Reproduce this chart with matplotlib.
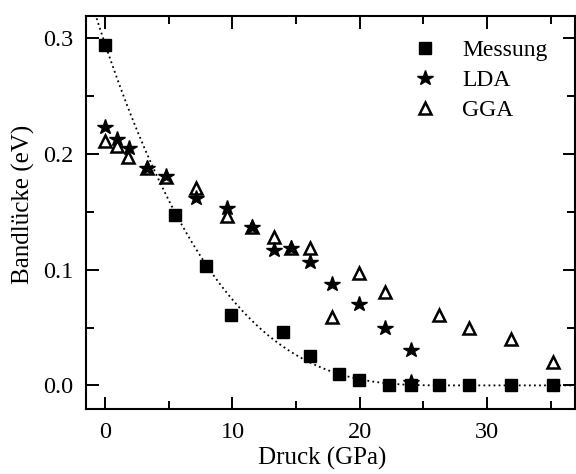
import numpy as np
import matplotlib
matplotlib.use("Agg")
import matplotlib.pyplot as plt
from matplotlib.ticker import MultipleLocator, FormatStrFormatter

# Measured band gap vs. pressure
p_mess = [0.0, 5.5, 7.9, 9.9, 14.0, 16.1, 18.4, 19.9, 22.3, 24.0, 26.2, 28.6, 31.9, 35.2]
eg_mess = [0.294, 0.147, 0.103, 0.061, 0.046, 0.025, 0.010, 0.005, 0.0, 0.0, 0.0, 0.0, 0.0, 0.0]

# LDA calculation
p_lda = [0.0, 0.95, 1.85, 3.3, 4.75, 7.1, 9.6, 11.5, 13.3, 14.6, 16.1, 17.8, 19.9, 22.0, 24.0, 24.0]
eg_lda = [0.223, 0.213, 0.205, 0.188, 0.181, 0.162, 0.153, 0.137, 0.117, 0.119, 0.107,
          0.088, 0.070, 0.050, 0.031, 0.003]

# GGA calculation
p_gga = [0.0, 0.9, 1.8, 3.3, 4.75, 7.1, 9.6, 11.5, 13.3, 14.6, 16.1, 17.8, 19.9, 22.0,
         26.2, 28.6, 31.9, 35.2]
eg_gga = [0.211, 0.207, 0.197, 0.188, 0.180, 0.171, 0.146, 0.137, 0.128, 0.119, 0.119,
          0.059, 0.097, 0.081, 0.061, 0.050, 0.040, 0.020]

# Fitted curve parameters: Eg(p) = A * (1 - p/p0)^n for p < p0, else 0
fit_A = 0.295
fit_p0 = 27.1
fit_n = 3

plt.rcParams['font.family'] = ['Liberation Serif', 'DejaVu Serif']

fig = plt.figure(figsize=(5.76, 4.74), dpi=100)
ax = fig.add_axes([86 / 576, 1 - 409 / 474, (575 - 86) / 576, (409 - 16) / 474])

xlim = (-1.5, 36.9)
ax.set_xlim(*xlim)
ax.set_ylim(-0.0204, 0.3193)

pp = np.linspace(xlim[0], xlim[1], 400)
fit = fit_A * np.clip(1 - pp / fit_p0, 0, None) ** fit_n
ax.plot(pp, fit, color='black', lw=1.3, ls=(0, (1, 1.8)), zorder=1)

ax.plot(p_mess, eg_mess, ls='none', marker='s', ms=8.5, color='black',
        label='Messung', zorder=3)
ax.plot(p_lda, eg_lda, ls='none', marker='*', ms=11.5, color='black',
        label='LDA', zorder=3)
ax.plot(p_gga, eg_gga, ls='none', marker='^', ms=9, mfc='none', mec='black',
        mew=1.8, label='GGA', zorder=3)

ax.xaxis.set_major_locator(MultipleLocator(10))
ax.xaxis.set_minor_locator(MultipleLocator(5))
ax.yaxis.set_major_locator(MultipleLocator(0.1))
ax.yaxis.set_minor_locator(MultipleLocator(0.05))
ax.yaxis.set_major_formatter(FormatStrFormatter('%.1f'))

ax.tick_params(which='both', direction='in', top=True, right=True, width=1.4,
               labelsize=17.5, pad=9)
ax.tick_params(which='major', length=9)
ax.tick_params(which='minor', length=6)
for s in ax.spines.values():
    s.set_linewidth(1.5)

ax.set_xlabel('Druck (GPa)', fontsize=18, labelpad=3.5, x=0.483)
ax.set_ylabel('Bandlücke (eV)', fontsize=18, labelpad=5.5, y=0.52)

leg = ax.legend(loc='upper left', frameon=False, fontsize=17, handlelength=1.5,
                handletextpad=0.82, labelspacing=0.36, borderaxespad=0.0,
                bbox_to_anchor=(398 / 576, 1 - 30 / 474),
                bbox_transform=fig.transFigure)

fig.savefig('out.png', dpi=100)
